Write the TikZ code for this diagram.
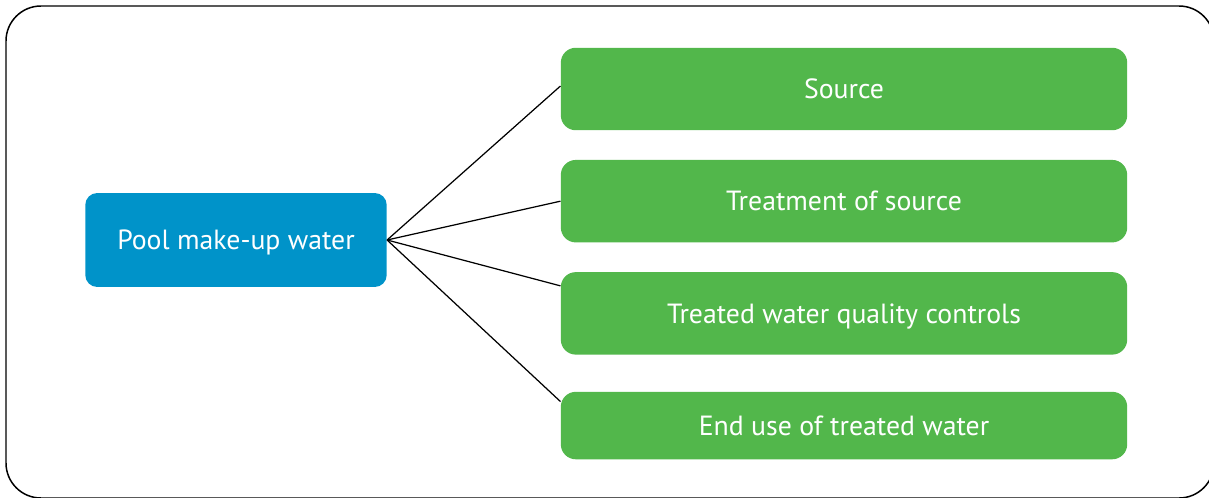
\documentclass[tikz,border=0pt]{standalone}
\usepackage{fontspec}
\setmainfont{PT Sans}
\usepackage{xcolor}
\usepackage{tikz}
\definecolor{poolblue}{HTML}{0093C9}
\definecolor{leafgreen}{HTML}{52B74B}
\tikzstyle{topic} = [rectangle, fill=poolblue, text=white, rounded corners=0.24cm,
    minimum width=6.03cm, minimum height=1.88cm, text height=0.39cm, text depth=0pt,
    font=\fontsize{15.8}{18}\selectfont]
\tikzstyle{aspect} = [rectangle, fill=leafgreen, text=white, rounded corners=0.3cm,
    minimum width=11.33cm, minimum height=1.65cm, text height=0.39cm, text depth=0pt,
    font=\fontsize{15.8}{18}\selectfont]
\tikzstyle{link} = [line width=0.7pt]
\usetikzlibrary{positioning}

\begin{document}
\begin{tikzpicture}[x=0.02cm,y=-0.02cm]
    \useasboundingbox (0,0) rectangle (1209,497);
    \draw[line width=0.85pt, rounded corners=0.7cm] (6,6) rectangle (1214,498);

    \node[topic] (pool) at (236,240) {Pool make-up water};

    \node[aspect] (src) at (844,89) {Source};
    \node[aspect, below=0.58cm of src] (treat) {Treatment of source};
    \node[aspect, below=0.58cm of treat] (qual) {Treated water quality controls};
    \node[aspect, below=0.73cm of qual, minimum height=1.35cm] (use) {End use of treated water};

    \draw[link] (pool.east) -- ([yshift=0.06cm]src.west);
    \draw[link] (pool.east) -- (treat.west);
    \draw[link] (pool.east) -- ([yshift=0.55cm]qual.west);
    \draw[link] (pool.east) -- ([yshift=0.48cm]use.west);
\end{tikzpicture}
\end{document}
